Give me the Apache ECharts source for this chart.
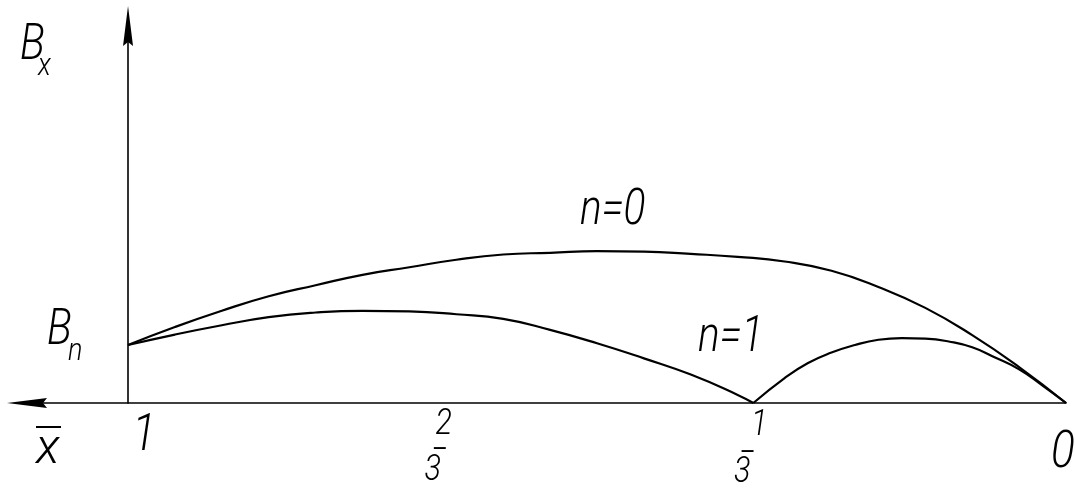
<!DOCTYPE html>
<html>
<head>
<meta charset="utf-8">
<script src="https://cdn.jsdelivr.net/npm/echarts@6/dist/echarts.min.js"></script>
<style>
  html, body { margin: 0; padding: 0; background: #fff; }
  #chart { width: 1075px; height: 488px; }
</style>
</head>
<body>
<div id="chart"></div>
<script>
// Relative coordinate x̄ (1 at the origin, 0 at the far end); B_x in units of B_n.
const xGrid = [1, 0.95, 0.9, 0.85, 0.8, 0.75, 0.7, 0.65, 0.6, 0.55, 0.5, 0.45, 0.4, 0.35, 0.3, 0.25, 0.2, 0.15, 0.1, 0.05, 0];
const bxN0 = [1.00, 1.31, 1.59, 1.84, 2.03, 2.21, 2.34, 2.47, 2.56, 2.59, 2.62, 2.61, 2.57, 2.52, 2.44, 2.28, 2.00, 1.64, 1.17, 0.62, 0];

// n = 1 touches zero at x̄ = 1/3, so it is drawn as two arcs meeting there.
const xN1 = [1, 0.95, 0.9, 0.85, 0.8, 0.75, 0.7, 0.65, 0.6, 0.55, 0.5, 0.45, 0.4, 0.35, 1 / 3,
             0.3, 0.275, 0.25, 0.225, 0.2, 0.175, 0.15, 0.125, 0.1, 0.075, 0.05, 0.025, 0];
const bxN1 = [1.00, 1.18, 1.34, 1.48, 1.56, 1.59, 1.58, 1.53, 1.45, 1.26, 1.03, 0.77, 0.49, 0.14, 0,
              0.43, 0.69, 0.87, 1.00, 1.09, 1.12, 1.11, 1.06, 0.96, 0.78, 0.58, 0.30, 0];

const xTicks = [1, 2 / 3, 1 / 3, 0];
const xTickText = ['1', '2/3', '1/3', '0'];
const curveNames = ['n=0', 'n=1'];

const INK = '#000';
const FONT = "Roboto, 'Liberation Sans', sans-serif";
const GRID = { left: 27, right: 9, top: 26, bottom: 85 };
const X_AXIS_MAX = 1.1077;   // x axis runs on past x̄ = 1 to carry its arrow
const Y_AXIS_MAX = 6.5;

const chart = echarts.init(document.getElementById('chart'));
const gridWidth = 1075 - GRID.left - GRID.right;
const yAxisShift = -gridWidth * (X_AXIS_MAX - 1) / X_AXIS_MAX;   // B axis stands at x̄ = 1

const pts = (xs, ys, from, to) => xs.slice(from, to).map((x, i) => [x, ys[from + i]]);
const cusp = xN1.indexOf(1 / 3);
const arrowPath = 'path://M5 0 L10 40 L5 36 L0 40 Z';

const lineStyle = { color: INK, width: 2.2 };
const curve = (name, data) => ({
  type: 'line', name: name, data: data, smooth: 0.5, showSymbol: false, symbol: 'none',
  lineStyle: lineStyle, silent: true, z: 3
});

chart.setOption({
  animation: false,
  backgroundColor: '#fff',
  grid: Object.assign({ containLabel: false, outerBoundsMode: 'none' }, GRID),
  xAxis: {
    type: 'value', inverse: true, min: 0, max: X_AXIS_MAX,
    axisLine: { show: true, onZero: false, symbol: [arrowPath, 'none'], symbolSize: [10, 40], lineStyle: { color: INK, width: 1.6 } },
    axisTick: { show: false },
    splitLine: { show: false },
    axisLabel: { show: false }
  },
  yAxis: {
    type: 'value', min: 0, max: Y_AXIS_MAX, offset: yAxisShift,
    axisLine: { show: true, onZero: false, symbol: ['none', arrowPath], symbolSize: [10, 40], lineStyle: { color: INK, width: 1.6 } },
    axisTick: { show: false },
    splitLine: { show: false },
    axisLabel: { show: false }
  },
  series: [
    curve(curveNames[0], pts(xGrid, bxN0, 0, xGrid.length)),
    curve(curveNames[1], pts(xN1, bxN1, 0, cusp + 1)),
    curve(curveNames[1], pts(xN1, bxN1, cusp, xN1.length))
  ]
});

// Drafting-style italic text element.
function txt(text, x, y, size, opts) {
  const o = opts || {};
  return {
    type: 'text', x: x, y: y, scaleX: o.sx || 0.85, z: 10,
    style: {
      text: text, fill: INK, fontSize: size, fontFamily: FONT,
      fontStyle: o.upright ? 'normal' : 'italic', fontWeight: o.weight || 300,
      align: o.align || 'left', verticalAlign: o.valign || 'top', lineHeight: size
    }
  };
}

// Tick labels under the x̄ axis, placed at the tick positions of the scale.
// Offsets are [dx from the tick, dy from the axis line].
const tickLayout = [
  { whole: [16, 8] },
  { num: [3, 4], bar: [-1, 47], den: [-8, 50] },
  { num: [6, 5], bar: [-6, 50], den: [-11, 52] },
  { whole: [-3, 25] }
];
function tickLabels() {
  const axisY = chart.convertToPixel({ yAxisIndex: 0 }, 0);
  const out = [];
  xTicks.forEach((v, i) => {
    const tx = chart.convertToPixel({ xAxisIndex: 0 }, v);
    const l = tickLayout[i];
    const t = xTickText[i];
    if (t.indexOf('/') < 0) {
      out.push(txt(t, tx + l.whole[0], axisY + l.whole[1], 52, { align: 'center' }));
    } else {
      const [num, den] = t.split('/');
      out.push(txt(num, tx + l.num[0], axisY + l.num[1], 36, { align: 'center' }));
      out.push(txt('\u2014', tx + l.bar[0], axisY + l.bar[1], 20, { align: 'center', valign: 'middle', upright: true, weight: 500, sx: 0.9 }));
      out.push(txt(den, tx + l.den[0], axisY + l.den[1], 36, { align: 'center' }));
    }
  });
  return out;
}

chart.setOption({
  graphic: [
    txt('B', 20, 22, 49), txt('x', 38, 51, 32),
    txt('B', 47, 307, 49), txt('n', 68, 336, 32),
    {
      type: 'text', x: 36, y: 425, z: 10,
      style: {
        text: '{o| }\n{x|x}', align: 'left', verticalAlign: 'top',
        rich: {
          o: { width: 25, height: 2, lineHeight: 4, backgroundColor: INK, fontSize: 2 },
          x: { fontSize: 50, lineHeight: 42, fontFamily: FONT, fontStyle: 'italic', fontWeight: 300, color: INK }
        }
      }
    },
    txt(curveNames[0], 580, 187, 49, { sx: 0.83 }),
    txt(curveNames[1], 698, 314, 49, { sx: 0.83 })
  ].concat(tickLabels())
});
</script>
</body>
</html>
